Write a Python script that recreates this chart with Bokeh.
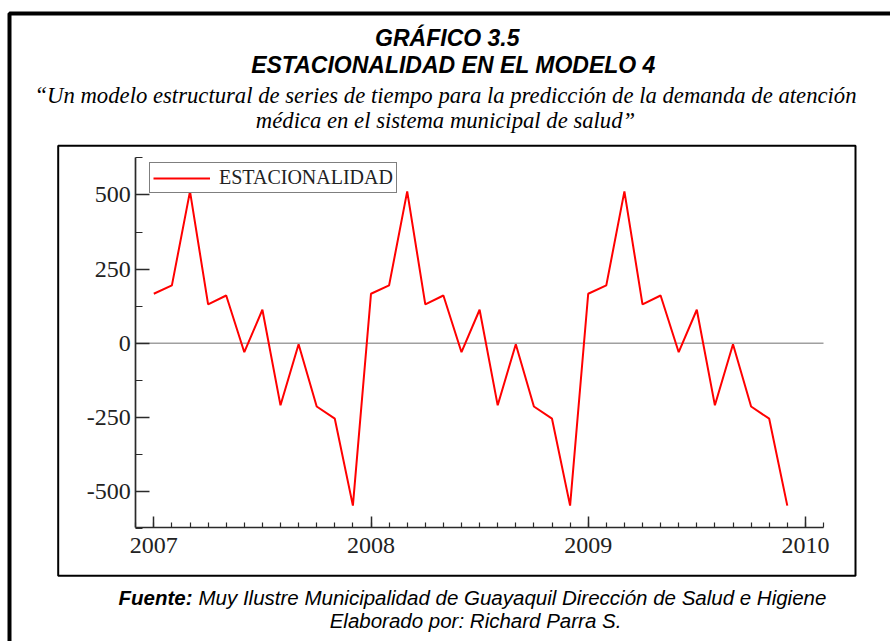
import numpy as np
import pandas as pd
from bokeh.plotting import figure
from bokeh.models import (Label, BoxAnnotation, Legend, LegendItem,
                          FixedTicker, Range1d)
from bokeh.embed import file_html
from bokeh.resources import INLINE

# ---------------- data ----------------
title_lines = ["GRÁFICO  3.5", "ESTACIONALIDAD EN EL MODELO 4"]
subtitle_lines = ["“Un modelo estructural de series de tiempo para la predicción de la demanda de atención",
                  "médica en el sistema municipal de salud”"]
source_label = "Fuente:"
source_text = "Muy Ilustre Municipalidad de Guayaquil Dirección de Salud e Higiene"
author_text = "Elaborado por: Richard Parra S."
series_name = "ESTACIONALIDAD"

months = pd.period_range("2007-01", periods=36, freq="M")
seasonal = [167, 195, 512, 131, 161, -30, 113, -209, -3, -213, -254, -547,
            167, 195, 512, 131, 161, -30, 113, -209, -3, -213, -254, -547,
            167, 195, 512, 131, 161, -30, 113, -209, -3, -213, -254, -547]
x_ticks = [2007, 2008, 2009, 2010]
y_ticks = [-500, -250, 0, 250, 500]
y_tick_labels = ["-500", "-250", "0", "250", "500"]
y_minor_ticks = [-625, -375, -125, 125, 375, 625]

x = np.array(months.year) + (np.array(months.month) - 1) / 12.0

# ---------------- layout helpers (pixel -> data) ----------------
W, H = 890, 641
X_ORIGIN_PX, PX_PER_YEAR = 153.3, 217.2
Y_ZERO_PX, PX_PER_UNIT = 342.8, 0.2968


def px_x(px):
    return 2007 + (px - X_ORIGIN_PX) / PX_PER_YEAR


def px_y(py):
    return (Y_ZERO_PX - py) / PX_PER_UNIT


x_lo, x_hi = 2007 - 1 / 12, 2010 + 1 / 12
y_lo, y_hi = -622, 625

p = figure(width=W, height=H, output_backend="svg", toolbar_location=None,
           x_range=Range1d(px_x(0), px_x(W)), y_range=Range1d(px_y(H), px_y(0)),
           min_border_left=0, min_border_right=0, min_border_top=0, min_border_bottom=0,
           background_fill_color="white", border_fill_color="white")
p.outline_line_color = None
p.xgrid.visible = False
p.ygrid.visible = False

# zero reference line across the axis span
p.segment(x0=[x_lo], y0=[0], x1=[x_hi], y1=[0], line_color="#a0a0a0", line_width=1.5)
r = p.line(x, seasonal, line_color="#ff0000", line_width=2)

month_ticks = list(2007 + np.arange(-1, 38) / 12.0)
p.xaxis.ticker = FixedTicker(ticks=x_ticks, minor_ticks=month_ticks)
p.yaxis.ticker = FixedTicker(ticks=y_ticks, minor_ticks=y_minor_ticks)
p.yaxis.major_label_overrides = {t: s for t, s in zip(y_ticks, y_tick_labels)}
p.xaxis.fixed_location = y_lo
p.yaxis.fixed_location = x_lo
p.xaxis.bounds = (x_lo, x_hi)
p.yaxis.bounds = (y_lo, y_hi)

for ax in (p.xaxis, p.yaxis):
    ax.axis_line_color = "#2a2a2a"
    ax.axis_line_width = 1.7
    ax.major_tick_line_color = "#2a2a2a"
    ax.minor_tick_line_color = "#2a2a2a"
    ax.major_tick_line_width = 1.5
    ax.minor_tick_line_width = 1.2
    ax.major_tick_out = 0
    ax.minor_tick_out = 0
    ax.major_label_text_font = "Liberation Serif"
    ax.major_label_text_font_size = "24px"
    ax.major_label_text_color = "#222222"
p.xaxis.major_tick_in = 11
p.xaxis.minor_tick_in = 5
p.yaxis.major_tick_in = 14
p.yaxis.minor_tick_in = 7
p.xaxis.major_label_standoff = 10
p.yaxis.major_label_standoff = 5

legend = Legend(items=[LegendItem(label=series_name, renderers=[r])],
                location=(149, H - 193), margin=0, padding=3, spacing=0,
                glyph_width=57, glyph_height=20, label_height=20, label_standoff=9,
                label_text_font="Liberation Serif", label_text_font_size="20px",
                label_text_line_height=1.0, label_text_color="#222222",
                border_line_color="black", border_line_width=1.5,
                background_fill_color="white", background_fill_alpha=1.0)
p.add_layout(legend)

# chart frame box and outer page border
p.add_layout(BoxAnnotation(left=px_x(57.7), right=px_x(855), top=px_y(145.3), bottom=px_y(575.3),
                           fill_alpha=0, line_color="black", line_width=2, line_alpha=1))
p.add_layout(BoxAnnotation(left=px_x(9), right=px_x(2000), top=px_y(13), bottom=px_y(2000),
                           fill_alpha=0, line_color="black", line_width=4, line_alpha=1))


def add_text(txt, cx, cy, font, size, style, align="center"):
    p.add_layout(Label(x=px_x(cx), y=px_y(cy), text=txt,
                       text_font=font, text_font_size=size, text_font_style=style,
                       text_align=align, text_baseline="middle", text_color="black"))


add_text(title_lines[0], 450, 37, "Liberation Sans", "23px", "bold italic")
add_text(title_lines[1], 453, 64, "Liberation Sans", "23px", "bold italic")
add_text(subtitle_lines[0], 445, 95, "Liberation Serif", "22.7px", "italic")
add_text(subtitle_lines[1], 445, 120, "Liberation Serif", "22.7px", "italic")
add_text(source_label, 192, 597, "Liberation Sans", "20.5px", "bold italic", "right")
add_text(source_text, 198, 597, "Liberation Sans", "20.5px", "italic", "left")
add_text(author_text, 475, 620, "Liberation Sans", "20.5px", "italic")

open("out.html", "w").write(file_html(p, INLINE))
